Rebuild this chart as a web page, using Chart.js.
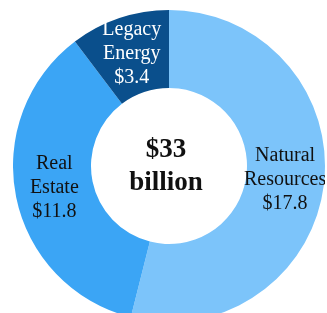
<!DOCTYPE html>
<html>
<head>
<meta charset="utf-8">
<script src="https://cdn.jsdelivr.net/npm/chart.js@4"></script>
<style>
    html, body { margin: 0; padding: 0; background: #fff; overflow: hidden; width: 327px; height: 313px; }
    #wrap { position: absolute; left: 13px; top: 10px; width: 312px; height: 312px; }
</style>
</head>
<body>
<div id="wrap"><canvas id="donut" width="312" height="312"></canvas></div>
<script>
const categories = [['Natural', 'Resources'], ['Real', 'Estate'], ['Legacy', 'Energy']];
const amounts = [17.8, 11.8, 3.4];
const sliceColors = ['#7cc4fa', '#3ba5f5', '#0a4f8c'];
const labelColors = ['#111111', '#111111', '#ffffff'];
const centerText = ['$33', 'billion'];

const serif = '"Liberation Serif", "Times New Roman", serif';

// подписи внутри сегментов + текст в центре
const labelsPlugin = {
    id: 'sliceLabels',
    afterDatasetsDraw(chart) {
        const ctx = chart.ctx;
        const meta = chart.getDatasetMeta(0);
        ctx.save();
        ctx.textAlign = 'center';
        ctx.textBaseline = 'middle';
        ctx.font = '20px ' + serif;
        meta.data.forEach((arc, i) => {
            const pos = arc.tooltipPosition();
            const lines = categories[i].concat('$' + amounts[i]);
            ctx.fillStyle = labelColors[i];
            lines.forEach((line, j) => {
                ctx.fillText(line, pos.x, pos.y + (j - 1) * 24 - 1);
            });
        });

        const arc0 = meta.data[0];
        ctx.fillStyle = '#111';
        ctx.font = 'bold 27px ' + serif;
        ctx.fillText(centerText[0], arc0.x - 3, arc0.y - 16);
        ctx.fillText(centerText[1], arc0.x - 3, arc0.y + 17);
        ctx.restore();
    }
};

Promise.all([
    document.fonts.load('20px "Liberation Serif"'),
    document.fonts.load('bold 27px "Liberation Serif"')
]).catch(() => {}).then(() => {
    new Chart(document.getElementById('donut'), {
        type: 'doughnut',
        data: {
            labels: categories.map(c => c.join(' ')),
            datasets: [{
                data: amounts,
                backgroundColor: sliceColors,
                borderWidth: 0
            }]
        },
        options: {
            responsive: false,
            animation: false,
            cutout: '50%',
            layout: { padding: 0 },
            plugins: {
                legend: { display: false },
                tooltip: { enabled: false }
            }
        },
        plugins: [labelsPlugin]
    });
});
</script>
</body>
</html>
